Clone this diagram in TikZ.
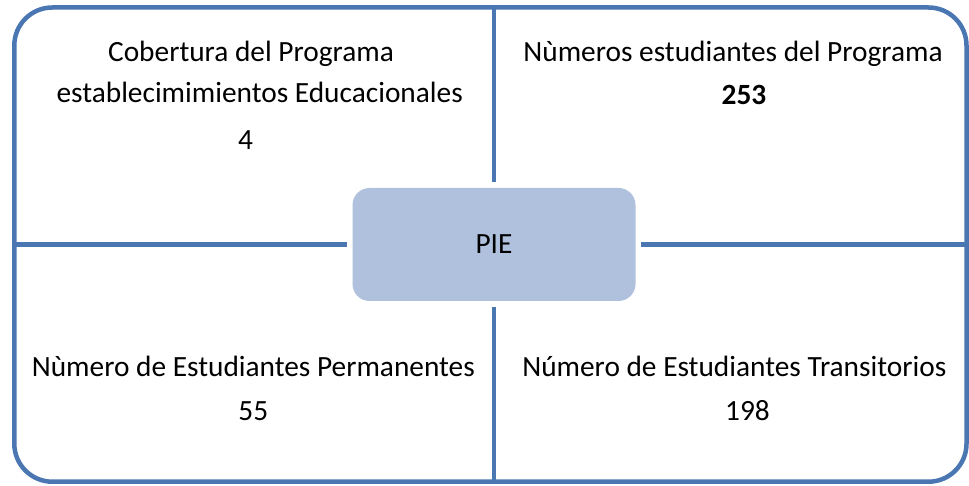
\documentclass[tikz,border=0pt]{standalone}
\usepackage{fontspec}
\setmainfont{Carlito}

\definecolor{frameblue}{RGB}{74,118,178}
\definecolor{pieblue}{RGB}{176,193,221}

\begin{document}
\begin{tikzpicture}[x=1pt,y=-1pt,
    every node/.style={font=\fontsize{29.35}{35}\selectfont},
    txt/.style={anchor=base,inner sep=0pt},
    arm/.style={draw=frameblue,line width=4.5pt,shorten >=5.5pt}]
    \useasboundingbox (0,0) rectangle (969,486);

    \draw[frameblue,line width=4.5pt,rounded corners=38pt] (14.3,7.5) rectangle (966.5,481.7);

    \coordinate (top) at (494,7.5);
    \coordinate (bottom) at (494,481.7);
    \coordinate (left) at (14.3,244.5);
    \coordinate (right) at (966.5,244.5);

    \draw
        node[fill=pieblue,rounded corners=17pt,minimum width=283pt,minimum height=113pt] (pie) at (494,244.5) {PIE}

        node[txt] (cob) at (251,62) {Cobertura del Programa}
        node[txt] (est) at (259.7,102.5) {establecimimientos Educacionales}
        node[txt] (cobnum) at (245.5,150) {4}

        node[txt] (num) at (733,62) {Nùmeros estudiantes del Programa}
        node[txt,font=\fontsize{29.35}{35}\selectfont\bfseries] (numval) at (744,105) {253}

        node[txt] (perm) at (253.3,376.7) {Nùmero de Estudiantes Permanentes}
        node[txt] (permval) at (253.3,420) {55}

        node[txt] (trans) at (734.3,376.7) {Número de Estudiantes Transitorios}
        node[txt] (transval) at (747.5,420) {198}
    ;

    \draw[arm] (top) -- (pie.north);
    \draw[arm] (bottom) -- (pie.south);
    \draw[arm] (left) -- (pie.west);
    \draw[arm] (right) -- (pie.east);
\end{tikzpicture}
\end{document}
